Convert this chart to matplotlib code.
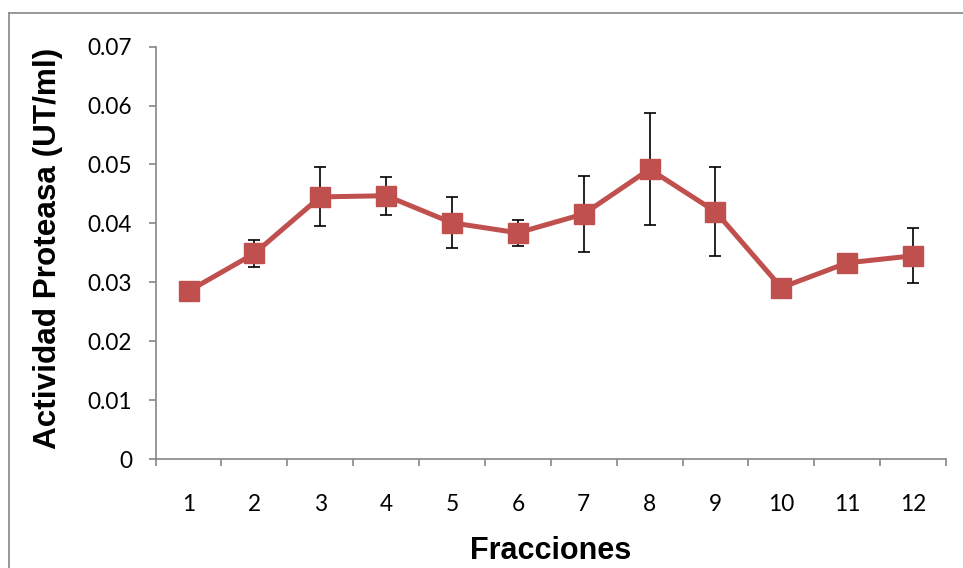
import matplotlib
matplotlib.use("Agg")
import matplotlib.pyplot as plt
from matplotlib.lines import Line2D
import numpy as np

# Protease activity per chromatography fraction
fractions = [1, 2, 3, 4, 5, 6, 7, 8, 9, 10, 11, 12]
activity = [0.0285, 0.0349, 0.0445, 0.0447, 0.0401, 0.0384,
            0.0416, 0.0492, 0.0420, 0.0291, 0.0333, 0.0345]
std_dev = [0.0010, 0.0023, 0.0050, 0.0032, 0.0043, 0.0022,
           0.0065, 0.0095, 0.0075, 0.0008, 0.0008, 0.0047]
y_ticks = [0, 0.01, 0.02, 0.03, 0.04, 0.05, 0.06, 0.07]
y_tick_labels = ["0", "0.01", "0.02", "0.03", "0.04", "0.05", "0.06", "0.07"]

line_color = "#C0504D"
axis_gray = "#868686"

W, H = 963, 568
fig = plt.figure(figsize=(W / 100, H / 100), dpi=100)
fig.patch.set_facecolor("white")

# chart area border (top and left edges visible)
fig.add_artist(Line2D([9 / W, 1.0], [1 - 13 / H, 1 - 13 / H], color=axis_gray,
                      lw=1.2, transform=fig.transFigure))
fig.add_artist(Line2D([9 / W, 9 / W], [0.0, 1 - 13 / H], color=axis_gray,
                      lw=1.2, transform=fig.transFigure))

left, right = 155.6 / W, 946 / W
bottom, top = 1 - 459 / H, 1 - 46.7 / H
ax = fig.add_axes([left, bottom, right - left, top - bottom])

x = np.array(fractions)
ax.errorbar(x, activity, yerr=std_dev, fmt="none", ecolor="black",
            elinewidth=1.2, capsize=4.3, capthick=1.2, zorder=2)
ax.plot(x, activity, color=line_color, lw=3.6, marker="s", markersize=14.4,
        markerfacecolor=line_color, markeredgecolor=line_color, zorder=3)

ax.set_xlim(0.5, 12.5)
ax.set_ylim(0, 0.07)

for side in ("top", "right"):
    ax.spines[side].set_visible(False)
for side in ("left", "bottom"):
    ax.spines[side].set_color(axis_gray)
    ax.spines[side].set_linewidth(1.2)

tick_font = dict(family="Lato", size=16.3)

ax.set_yticks(y_ticks)
ax.set_yticklabels(y_tick_labels, **tick_font)
ax.tick_params(axis="y", direction="out", length=5, width=1.2,
               color=axis_gray, pad=12)

# boundary ticks between categories, labels centered on each category
ax.set_xticks(np.arange(0.5, 12.6, 1.0))
ax.set_xticklabels([])
ax.tick_params(axis="x", which="major", direction="out", length=5, width=1.2,
               color=axis_gray)
ax.set_xticks(x, minor=True)
ax.set_xticklabels([str(f) for f in fractions], minor=True, **tick_font)
ax.tick_params(axis="x", which="minor", length=0, pad=25)

fig.text((left + right) / 2, 1 - 551 / H, "Fracciones", ha="center", va="center",
         family="Liberation Sans", weight="bold", size=22)
fig.text(48 / W, 1 - 248 / H, "Actividad Proteasa (UT/ml)", ha="center",
         va="center", rotation=90, family="Liberation Sans", weight="bold",
         size=22.7)

fig.savefig("out.png", dpi=100, facecolor="white")
